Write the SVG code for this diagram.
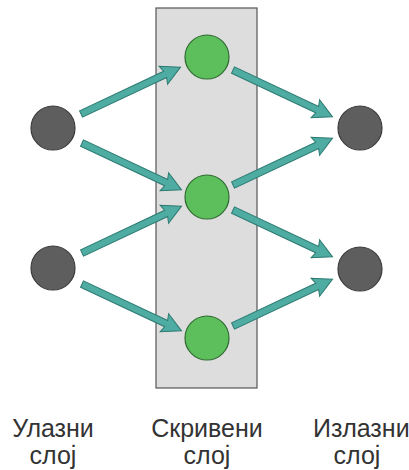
<svg xmlns="http://www.w3.org/2000/svg" width="409" height="470" viewBox="0 0 409 470">
  <style>
    .in, .out { fill: #5e5e5e; stroke: #3c3c3c; stroke-width: 1.2; }
    .hid { fill: #5cbf5c; stroke: #2e6a30; stroke-width: 1.2; }
    .layer { fill: #dddddd; stroke: #555555; stroke-width: 1.2; }
    .arrow { fill: #4eaca2; stroke: #2c7a72; stroke-width: 1; stroke-linejoin: miter; }
    .lbl { font-family: "Liberation Sans", Arial, sans-serif; font-size: 25px; fill: #333333; }
  </style>
  <defs>
    <!-- one block arrow, tail at origin, pointing along +x -->
    <path id="arrow" d="M0,-3.5 L93,-3.5 L91,-10 L110,0 L91,10 L93,3.5 L0,3.5 Z"/>
  </defs>

  <rect id="hidden-layer" class="layer" x="156" y="8" width="101" height="380"/>

  <g id="connectors" class="arrow">
    <use href="#arrow" transform="translate(81,114) rotate(-25.2)"/>
    <use href="#arrow" transform="translate(82,143) rotate(25.2)"/>
    <use href="#arrow" transform="translate(82,253) rotate(-25.2)"/>
    <use href="#arrow" transform="translate(82,284) rotate(25.2)"/>
    <use href="#arrow" transform="translate(233,70) rotate(25.2)"/>
    <use href="#arrow" transform="translate(233,185) rotate(-25.2)"/>
    <use href="#arrow" transform="translate(233,210) rotate(25.2)"/>
    <use href="#arrow" transform="translate(233,326) rotate(-25.2)"/>
  </g>

  <g id="input-1"><circle class="in" cx="53" cy="128" r="22"/></g>
  <g id="input-2"><circle class="in" cx="53" cy="268" r="22"/></g>
  <g id="hidden-1"><circle class="hid" cx="207" cy="57" r="22"/></g>
  <g id="hidden-2"><circle class="hid" cx="207" cy="197" r="22"/></g>
  <g id="hidden-3"><circle class="hid" cx="207" cy="338" r="22"/></g>
  <g id="output-1"><circle class="out" cx="360" cy="128" r="22"/></g>
  <g id="output-2"><circle class="out" cx="360" cy="269" r="22"/></g>

  <g id="labels" class="lbl">
    <text x="53" y="437" text-anchor="middle">Улазни</text>
    <text x="53" y="464" text-anchor="middle">слој</text>
    <text x="207" y="437" text-anchor="middle">Скривени</text>
    <text x="207" y="464" text-anchor="middle">слој</text>
    <text x="313" y="437">Излазни</text>
    <text x="357" y="464" text-anchor="middle">слој</text>
  </g>
</svg>
